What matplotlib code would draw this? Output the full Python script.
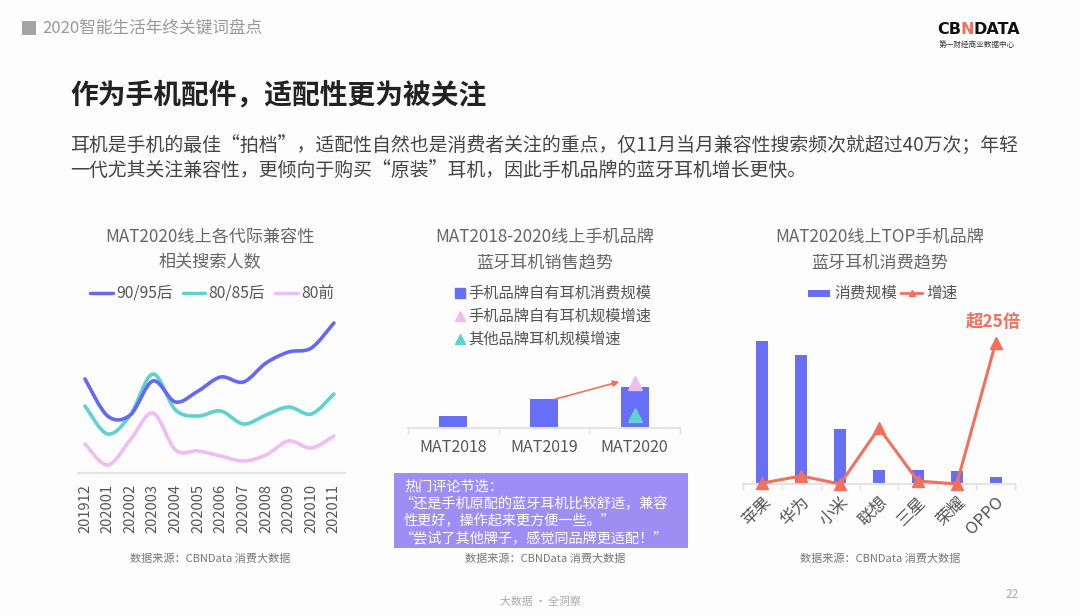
import numpy as np
import matplotlib
matplotlib.use("Agg")
import matplotlib.pyplot as plt
from matplotlib.path import Path
from matplotlib.patches import PathPatch, Rectangle

plt.rcParams['font.family'] = ['Noto Sans CJK SC', 'DejaVu Sans']

# ---------------- data ----------------
months = ['201912', '202001', '202002', '202003', '202004', '202005',
          '202006', '202007', '202008', '202009', '202010', '202011']
gen_names = ['90/95后', '80/85后', '80前']
gen_9095 = [94, 57, 58, 92, 71, 82, 96, 91, 110, 121, 125, 150]
gen_8085 = [67, 39, 58, 99, 63, 57, 62, 49, 58, 66, 59, 79]
gen_80 = [29, 8, 33, 60, 23, 22, 17, 12, 18, 32, 25, 37]

mat_years = ['MAT2018', 'MAT2019', 'MAT2020']
brand_own_scale = [12, 29, 41]
brand_own_growth_2020 = 45
other_growth_2020 = 13
mid_legend = ['手机品牌自有耳机消费规模', '手机品牌自有耳机规模增速', '其他品牌耳机规模增速']

brands = ['苹果', '华为', '小米', '联想', '三星', '荣耀', 'OPPO']
brand_scale = [143, 129, 55, 14, 14, 13, 7]
brand_growth = [1, 8, 0, 56, 3, 0, 141]

comments = ['热门评论节选：',
            '“还是手机原配的蓝牙耳机比较舒适，兼容',
            '性更好，操作起来更方便一些。”',
            '“尝试了其他牌子，感觉同品牌更适配！”']

# ---------------- style ----------------
W, H = 1080, 616
BLUE = '#6468f2'
TEAL = '#5ed2cf'
PINK = '#f0bcf5'
BAR = '#666ff5'
RED = '#f2705d'
BOX = '#9e8ef3'
GRAY_T = '#666666'
AXC = '#e3e3e3'

fig = plt.figure(figsize=(W / 100, H / 100), dpi=100)
fig.patch.set_facecolor('#fdfdfd')

ov = fig.add_axes([0, 0, 1, 1])
ov.set_xlim(0, W)
ov.set_ylim(H, 0)
ov.axis('off')
ov.patch.set_visible(False)


def px_axes(x0, y0, x1, y1):
    a = fig.add_axes([x0 / W, 1 - y1 / H, (x1 - x0) / W, (y1 - y0) / H])
    a.patch.set_visible(False)
    for s in ['top', 'right', 'left']:
        a.spines[s].set_visible(False)
    a.spines['bottom'].set_color(AXC)
    a.spines['bottom'].set_linewidth(1.5)
    a.set_yticks([])
    return a


def smooth_path(xs, ys, t=1 / 6):
    pts = np.column_stack([xs, ys]).astype(float)
    n = len(pts)
    verts = [pts[0]]
    codes = [Path.MOVETO]
    for i in range(n - 1):
        p0 = pts[i - 1] if i > 0 else pts[i]
        p1 = pts[i]
        p2 = pts[i + 1]
        p3 = pts[i + 2] if i + 2 < n else pts[i + 1]
        verts += [p1 + (p2 - p0) * t, p2 - (p3 - p1) * t, p2]
        codes += [Path.CURVE4] * 3
    return Path(verts, codes)


# ---------------- header ----------------
ov.add_patch(Rectangle((22, 21), 14, 14, color='#a3a3a3', lw=0))
ov.text(42, 28, '2020智能生活年终关键词盘点', fontsize=12, color='#999999',
        va='center', ha='left')

# logo
fig.canvas.draw()
r = fig.canvas.get_renderer()
x = 937
for piece, col in [('CB', '#111111'), ('N', '#f2705d'), ('DATA', '#111111')]:
    t = ov.text(x, 30, piece, fontsize=11.5, fontweight='bold', color=col,
                va='center', ha='left', family=['DejaVu Sans'])
    bb = t.get_window_extent(renderer=r)
    x += bb.width * 0.97
ov.text(977, 45, '第一财经商业数据中心', fontsize=5.5, color='#333333',
        va='center', ha='center')

ov.text(70, 95, '作为手机配件，适配性更为被关注', fontsize=20, fontweight='bold',
        color='#222222', va='center', ha='left')
ov.text(70, 145, '耳机是手机的最佳“拍档”，适配性自然也是消费者关注的重点，仅11月当月兼容性搜索频次就超过40万次；年轻',
        fontsize=13.6, color='#444444', va='center', ha='left')
ov.text(70, 170, '一代尤其关注兼容性，更倾向于购买“原装”耳机，因此手机品牌的蓝牙耳机增长更快。',
        fontsize=13.6, color='#444444', va='center', ha='left')

# ---------------- left chart ----------------
ov.text(210, 237, 'MAT2020线上各代际兼容性', fontsize=12.3, color=GRAY_T, ha='center', va='center')
ov.text(210, 262, '相关搜索人数', fontsize=12.3, color=GRAY_T, ha='center', va='center')
for (x0, x1, tx), col, name in zip([(90, 113, 116), (183, 205, 208), (275, 298, 301)],
                                   [BLUE, TEAL, PINK], gen_names):
    ov.plot([x0, x1], [293, 293], color=col, lw=2.5, solid_capstyle='round')
    ov.text(tx, 293, name, fontsize=11.3, color='#555555', va='center', ha='left')

axL = px_axes(78, 300, 345, 473)
xs = np.arange(len(months))
axL.set_xlim(-0.31, 11.49)
axL.set_ylim(0, 173)
for vals, col in [(gen_80, PINK), (gen_8085, TEAL), (gen_9095, BLUE)]:
    axL.add_patch(PathPatch(smooth_path(xs, vals), fill=False, edgecolor=col,
                            lw=2.6, capstyle='round', joinstyle='round'))
axL.set_xticks(xs)
axL.set_xticklabels(months, rotation=90, fontsize=10.5, color='#555555', va='top')
axL.tick_params(axis='x', length=0, pad=8)
ov.text(210, 559, '数据来源：CBNData 消费大数据', fontsize=8, color='#777777', ha='center', va='center')

# ---------------- middle chart ----------------
ov.text(545, 237, 'MAT2018-2020线上手机品牌', fontsize=12.3, color=GRAY_T, ha='center', va='center')
ov.text(545, 262, '蓝牙耳机销售趋势', fontsize=12.3, color=GRAY_T, ha='center', va='center')
ov.plot([460], [293], marker='s', ms=6.5, color=BAR, lw=0)
ov.plot([460], [316], marker='^', ms=6.5, color=PINK, lw=0)
ov.plot([460], [339], marker='^', ms=6.5, color=TEAL, lw=0)
for yy, name in zip([293, 316, 339], mid_legend):
    ov.text(468, yy, name, fontsize=11, color='#555555', va='center', ha='left')

axM = px_axes(408, 360, 680, 428)
xm = np.arange(len(mat_years))
axM.set_xlim(-0.5, 2.5)
axM.set_ylim(0, 68)
axM.bar(xm, brand_own_scale, width=0.31, color=BAR, zorder=2)
axM.plot([2], [brand_own_growth_2020], marker='^', ms=10, color=PINK, lw=0, zorder=3, clip_on=False)
axM.plot([2], [other_growth_2020], marker='^', ms=10, color=TEAL, lw=0, zorder=3)
axM.annotate('', xy=(1.86, 47), xytext=(1.09, 28),
             arrowprops=dict(arrowstyle='-|>', color=RED, lw=1.2, mutation_scale=9), zorder=4)
axM.set_xticks(xm)
axM.set_xticklabels(mat_years, fontsize=11.5, color='#555555')
axM.set_xticks([-0.5, 0.5, 1.5, 2.5], minor=True)
axM.tick_params(axis='x', which='major', length=0, pad=8)
axM.tick_params(axis='x', which='minor', length=4, color=AXC, width=1)

# comment box
ov.add_patch(Rectangle((394, 473), 294, 75, color=BOX, lw=0))
for yy, xx, line in zip([486, 504, 521, 538], [404, 399, 404, 399], comments):
    ov.text(xx, yy, line, fontsize=10.2, color='white', va='center', ha='left')
ov.text(545, 559, '数据来源：CBNData 消费大数据', fontsize=8, color='#777777', ha='center', va='center')

# ---------------- right chart ----------------
ov.text(880, 237, 'MAT2020线上TOP手机品牌', fontsize=12.3, color=GRAY_T, ha='center', va='center')
ov.text(880, 262, '蓝牙耳机消费趋势', fontsize=12.3, color=GRAY_T, ha='center', va='center')
ov.add_patch(Rectangle((808, 290), 22, 6.5, color=BAR, lw=0))
ov.text(834, 293, '消费规模', fontsize=11.3, color='#555555', va='center', ha='left')
ov.plot([901, 922], [293, 293], color=RED, lw=2)
ov.plot([911.5], [293], marker='^', ms=5, color=RED)
ov.text(926, 293, '增速', fontsize=11.3, color='#555555', va='center', ha='left')

axR = px_axes(743, 330, 1015, 484)
xb = np.arange(len(brands))
axR.set_xlim(-0.5, 6.5)
axR.set_ylim(0, 154)
axR.bar(xb, brand_scale, width=0.31, color=BAR, zorder=2)
axR.plot(xb, brand_growth, color=RED, lw=2.2, marker='^', ms=8, zorder=3, clip_on=False)
axR.set_xticks(xb)
axR.set_xticklabels(brands, fontsize=12, color='#555555', rotation=45,
                    ha='right', rotation_mode='anchor')
axR.set_xticks(np.arange(-0.5, 7, 1), minor=True)
axR.tick_params(axis='x', which='major', length=0, pad=7)
axR.tick_params(axis='x', which='minor', length=4, color=AXC, width=1)
ov.text(993, 322, '超25倍', fontsize=12.5, fontweight='bold', color=RED,
        ha='center', va='center')
ov.text(880, 559, '数据来源：CBNData 消费大数据', fontsize=8, color='#777777', ha='center', va='center')

# ---------------- footer ----------------
ov.text(540, 602, '大数据 · 全洞察', fontsize=7.8, color='#aaaaaa', ha='center', va='center')
ov.text(1012, 594, '22', fontsize=8.5, color='#aaaaaa', ha='center', va='center')

fig.savefig('out.png', dpi=100, facecolor=fig.get_facecolor())
